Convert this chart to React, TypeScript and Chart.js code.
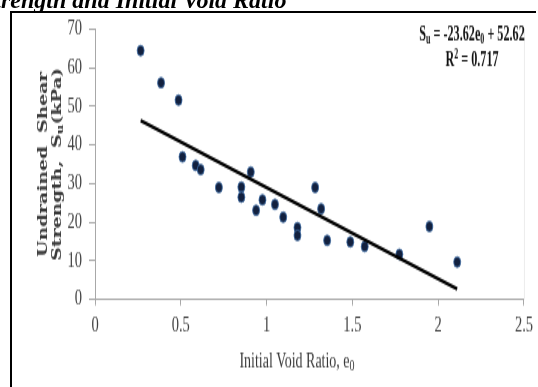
import React, { useEffect, useRef } from "react";
import { Chart, registerables } from "chart.js";

Chart.register(...registerables);

// ---- data ----
const voidRatio = [0.266, 0.385, 0.487, 0.51, 0.587, 0.616, 0.722, 0.853, 0.853, 0.908, 0.939, 0.976, 1.049, 1.097, 1.18, 1.18, 1.283, 1.318, 1.353, 1.488, 1.572, 1.774, 1.949, 2.111];
const shearStrength = [64.4, 56.1, 51.6, 36.9, 34.7, 33.6, 29.0, 29.1, 26.5, 33.0, 23.1, 25.8, 24.6, 21.3, 18.6, 16.6, 29.0, 23.5, 15.3, 14.9, 13.7, 11.7, 18.9, 9.7];
const fitSlope = -23.62;
const fitIntercept = 52.62;
const rSquared = "0.717";
const xTickValues = [0, 0.5, 1, 1.5, 2, 2.5];
const yTickValues = [0, 10, 20, 30, 40, 50, 60, 70];
const captionText = "Strength and Initial Void Ratio";

// ---- layout (vertical stretch of the picture) ----
const W = 538;
const H = 387;
const S = 1.5;
const CH = H / S;
const AREA_TOP = 29 / S;
const AREA_BOTTOM = 299.5 / S;
const AREA_LEFT = 95;
const AREA_RIGHT = 528;

function drawSegments(ctx: CanvasRenderingContext2D, segs: { t: string; f: string; dy: number }[], x: number, y: number, align: "left" | "center" | "right") {
  let total = 0;
  for (const s of segs) { ctx.font = s.f; total += ctx.measureText(s.t).width; }
  let cx = align === "left" ? x : align === "center" ? x - total / 2 : x - total;
  ctx.textAlign = "left";
  for (const s of segs) {
    ctx.font = s.f;
    ctx.fillText(s.t, cx, y + s.dy);
    cx += ctx.measureText(s.t).width;
  }
}

const textPlugin = {
  id: "texts",
  afterDraw(chart: any) {
    const ctx = chart.ctx as CanvasRenderingContext2D;
    const area = chart.chartArea;
    ctx.save();
    // faint right border of plot area
    ctx.strokeStyle = "#ececec";
    ctx.lineWidth = 1;
    ctx.beginPath();
    ctx.moveTo(area.right + 0.5, area.top);
    ctx.lineTo(area.right + 0.5, area.bottom);
    ctx.stroke();

    ctx.textBaseline = "middle";
    // y axis title
    ctx.fillStyle = "#3a3a3a";
    const cy = (area.top + area.bottom) / 2;
    ctx.save();
    ctx.translate(44, cy);
    ctx.rotate(-Math.PI / 2);
    const yf = "bold 12.5px 'DejaVu Serif'";
    const yfs = "bold 9px 'DejaVu Serif'";
    drawSegments(ctx, [{ t: "Undrained  Shear", f: yf, dy: 0 }], 0, 0, "center");
    drawSegments(ctx, [
      { t: "Strength,  S", f: yf, dy: 0 },
      { t: "u", f: yfs, dy: 3 },
      { t: "(kPa)", f: yf, dy: 0 },
    ], 0, 13.5, "center");
    ctx.restore();

    // x axis title
    ctx.fillStyle = "#3a3a3a";
    const xf = "14px 'Liberation Serif'";
    const xfs = "10px 'Liberation Serif'";
    drawSegments(ctx, [
      { t: "Initial Void Ratio, e", f: xf, dy: 0 },
      { t: "0", f: xfs, dy: 3 },
    ], 297, 362 / S, "center");

    // equation (condensed bold serif)
    ctx.fillStyle = "#111111";
    const ef = "bold 14.5px 'Liberation Serif'";
    const efs = "bold 9.5px 'Liberation Serif'";
    const cond = 0.84;
    ctx.save();
    ctx.scale(cond, 1);
    drawSegments(ctx, [
      { t: "S", f: ef, dy: 0 },
      { t: "u", f: efs, dy: 3 },
      { t: " = " + fitSlope.toFixed(2) + "e", f: ef, dy: 0 },
      { t: "0", f: efs, dy: 3 },
      { t: " + " + fitIntercept.toFixed(2), f: ef, dy: 0 },
    ], 472 / cond, 35 / S, "center");
    drawSegments(ctx, [
      { t: "R", f: ef, dy: 0 },
      { t: "2", f: efs, dy: -3.5 },
      { t: " = " + rSquared, f: ef, dy: 0 },
    ], 472 / cond, 60 / S, "center");
    ctx.restore();
    ctx.restore();
  },
};

export default function App() {
  const ref = useRef<HTMLCanvasElement | null>(null);
  useEffect(() => {
    if (!ref.current) return;
    const pts = voidRatio.map((x, i) => ({ x, y: shearStrength[i] }));
    const xMin = Math.min(...voidRatio);
    const xMax = Math.max(...voidRatio);
    const fit = [xMin, xMax].map((x) => ({ x, y: fitSlope * x + fitIntercept }));
    const tickFont = { family: "'Liberation Serif'", size: 14.5 };
    const chart = new Chart(ref.current, {
      type: "scatter",
      data: {
        datasets: [
          {
            type: "line",
            data: fit,
            borderColor: "#000000",
            borderWidth: 2.4,
            pointRadius: 0,
            fill: false,
            order: 0,
          } as any,
          {
            data: pts,
            backgroundColor: "#13213f",
            borderColor: "#3f6ea8",
            borderWidth: 0.8,
            pointRadius: 3.5,
            order: 1,
          },
        ],
      },
      options: {
        animation: false,
        responsive: false,
        maintainAspectRatio: false,
        devicePixelRatio: 1,
        layout: { padding: { left: 0, right: W - AREA_RIGHT, top: AREA_TOP, bottom: 0 } },
        plugins: { legend: { display: false }, tooltip: { enabled: false } },
        scales: {
          x: {
            type: "linear",
            min: 0,
            max: 2.5,
            afterBuildTicks: (s: any) => { s.ticks = xTickValues.map((v) => ({ value: v })); },
            afterFit: (s: any) => { s.height = CH - AREA_BOTTOM; },
            grid: { drawOnChartArea: false, drawTicks: true, tickLength: 4, color: "#a8a8a8" },
            border: { color: "#a8a8a8", width: 1 },
            ticks: { font: tickFont, color: "#404040", padding: 5, callback: (v: any) => String(v) },
          },
          y: {
            type: "linear",
            min: 0,
            max: 70,
            afterBuildTicks: (s: any) => { s.ticks = yTickValues.map((v) => ({ value: v })); },
            afterFit: (s: any) => { s.width = AREA_LEFT; },
            grid: { drawOnChartArea: false, drawTicks: true, tickLength: 6, color: "#a8a8a8" },
            border: { color: "#a8a8a8", width: 1 },
            ticks: { font: tickFont, color: "#404040", padding: 7, callback: (v: any) => String(v) },
          },
        },
      },
      plugins: [textPlugin],
    });
    return () => chart.destroy();
  }, []);

  return (
    <div style={{ position: "fixed", left: 0, top: 0, width: W, height: H, overflow: "hidden", background: "#fff" }}>
      <div style={{ position: "absolute", left: 0, top: 0, width: W, height: CH, transform: `scaleY(${S})`, transformOrigin: "0 0" }}>
        <canvas ref={ref} width={W} height={CH} style={{ width: W + "px", height: CH + "px", display: "block" }} />
      </div>
      <div style={{ position: "absolute", left: -19, top: -12, font: "italic bold 24px 'Liberation Serif'", lineHeight: "24px", whiteSpace: "nowrap", color: "#000" }}>
        {captionText}
      </div>
      <div style={{ position: "absolute", left: 10, top: 11, width: 526, height: 400, borderLeft: "2px solid #000", borderTop: "2px solid #000", boxSizing: "border-box" }} />
    </div>
  );
}
